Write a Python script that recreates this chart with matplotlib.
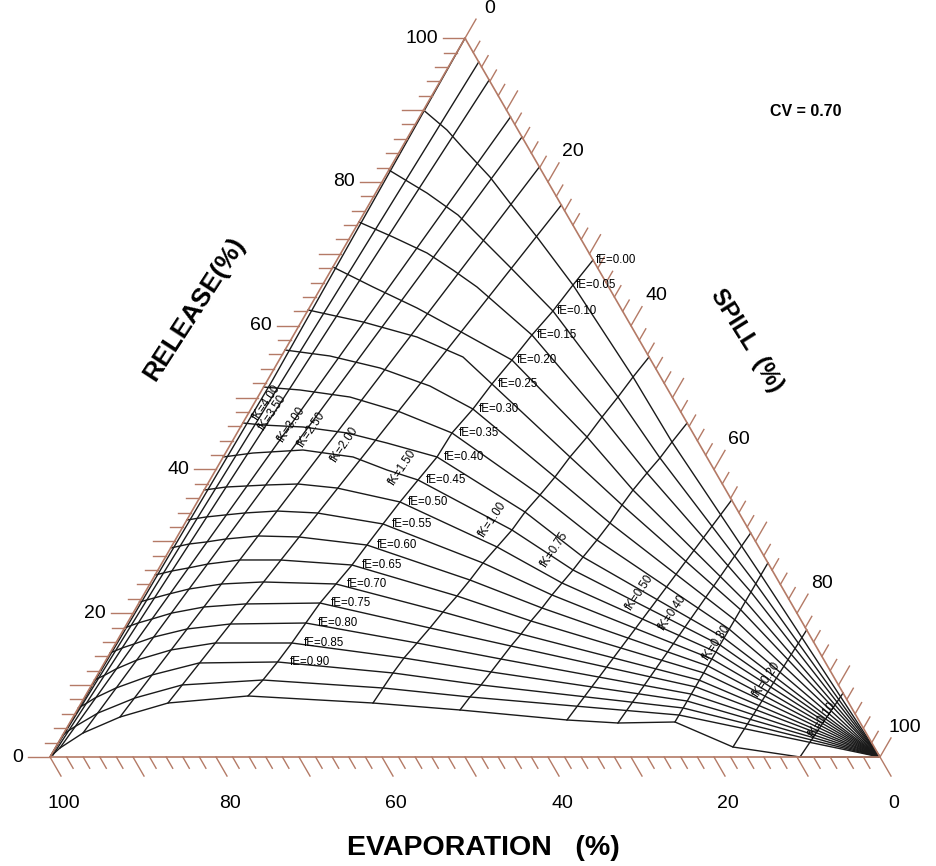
import numpy as np
import matplotlib
matplotlib.use("Agg")
import matplotlib.pyplot as plt

plt.rcParams['font.family'] = ['Liberation Sans', 'DejaVu Sans']

# ---------------- data : nodes given as (Release %, Spill %) ----------------
fe_values = [0.05, 0.10, 0.15, 0.20, 0.25, 0.30, 0.35, 0.40, 0.45, 0.50,
             0.55, 0.60, 0.65, 0.70, 0.75, 0.80, 0.85, 0.90, 0.95, 1.00]

fe_05 = [(90.0, 0.0), (87.23, 4.21), (84.72, 7.40), (80.69, 12.66), (77.07, 16.88), (72.34, 22.50),
         (65.66, 30.18), (52.87, 43.81), (43.82, 53.03), (25.32, 73.00), (0, 100)]
fe_10 = [(81.66, 0.0), (78.46, 6.19), (75.40, 11.46), (72.34, 15.64), (68.17, 21.33), (62.05, 29.57),
         (50.08, 43.39), (41.60, 52.69), (24.07, 73.02), (0, 100)]
fe_15 = [(74.43, 0.0), (72.34, 5.16), (70.12, 10.36), (67.75, 14.67), (65.39, 18.75), (58.71, 28.71),
         (47.30, 42.86), (39.51, 52.17), (22.95, 72.98), (0, 100)]
fe_20 = [(68.17, 0.0), (65.39, 6.22), (62.47, 12.98), (58.99, 20.26), (55.23, 28.04),
         (44.52, 42.44), (37.14, 51.67), (21.56, 73.08), (0, 100)]
fe_25 = [(62.19, 0.0), (60.52, 7.45), (58.43, 15.00), (55.65, 21.93), (51.89, 27.30),
         (41.74, 41.78), (35.06, 51.39), (20.45, 73.02), (0, 100)]
fe_30 = [(56.62, 0.0), (55.79, 5.83), (54.12, 12.70), (51.61, 19.97), (48.41, 26.75),
         (38.95, 41.36), (32.55, 51.19), (19.06, 73.00), (0, 100)]
fe_35 = [(51.47, 0.0), (51.06, 4.59), (50.08, 11.10), (48.00, 18.17), (45.08, 25.89),
         (36.45, 40.81), (30.19, 50.80), (17.81, 72.90), (0, 100)]
fe_40 = [(46.47, 0.0), (46.19, 2.44), (45.91, 7.52), (45.08, 13.24), (43.68, 18.76), (41.74, 25.76),
         (34.08, 40.19), (27.82, 50.31), (16.56, 72.92), (0, 100)]
fe_45 = [(41.74, 0.0), (42.29, 3.31), (42.71, 9.12), (41.74, 15.64), (39.93, 20.63), (38.54, 25.07),
         (31.58, 39.87), (26.02, 50.00), (15.58, 72.93), (0, 100)]
fe_50 = [(37.14, 0.0), (37.56, 2.42), (37.70, 4.76), (37.84, 7.10), (37.98, 10.89), (37.42, 15.87),
         (35.48, 24.43), (29.22, 39.25), (24.21, 49.58), (14.61, 72.93), (0, 100)]
fe_55 = [(32.97, 0.0), (33.39, 2.10), (33.67, 4.24), (33.95, 6.52), (34.22, 10.24), (33.95, 15.20),
         (32.42, 23.91), (26.99, 38.67), (22.54, 49.21), (13.63, 72.94), (0, 100)]
fe_60 = [(29.08, 0.0), (29.63, 1.93), (29.91, 3.84), (30.33, 6.03), (30.75, 9.69), (30.61, 14.69),
         (29.49, 23.44), (24.62, 38.29), (20.73, 48.91), (12.66, 72.95), (0, 100)]
fe_65 = [(25.32, 0.0), (25.88, 1.76), (26.29, 3.48), (26.85, 5.61), (27.41, 9.18), (27.41, 14.00),
         (26.71, 23.03), (22.40, 37.84), (18.92, 48.49), (11.69, 72.95), (0, 100)]
fe_70 = [(21.56, 0.0), (22.12, 1.47), (22.68, 3.00), (23.37, 5.06), (24.07, 8.68), (24.35, 13.48),
         (24.07, 22.42), (20.17, 37.26), (17.11, 48.19), (10.71, 72.83), (0, 100)]
fe_75 = [(17.95, 0.0), (18.64, 1.28), (19.20, 2.69), (20.03, 4.68), (20.87, 8.11), (21.29, 12.84),
         (21.42, 21.82), (17.95, 36.80), (15.44, 47.82), (9.74, 72.96), (0, 100)]
fe_80 = [(14.47, 0.0), (15.16, 1.09), (15.72, 2.26), (16.69, 4.18), (17.81, 7.60), (18.50, 12.44),
         (18.64, 21.50), (15.86, 36.29), (13.63, 47.52), (8.76, 72.85), (0, 100)]
fe_85 = [(10.71, 0.0), (11.41, 0.92), (12.24, 1.83), (13.49, 3.73), (14.89, 7.13), (15.86, 11.95),
         (15.86, 21.20), (13.77, 35.76), (11.83, 47.22), (7.79, 72.85), (0, 100)]
fe_90 = [(6.82, 0.0), (7.51, 0.70), (8.21, 1.31), (9.60, 3.15), (11.41, 6.58), (13.08, 11.41),
         (13.22, 20.80), (11.69, 35.48), (10.02, 46.92), (6.82, 72.86), (0, 100)]
fe_95 = [(3.06, 0.0), (3.62, 0.36), (4.31, 0.97), (6.12, 2.72), (8.21, 6.13), (10.02, 10.89),
         (10.71, 20.30), (9.60, 35.32), (8.35, 46.42), (5.84, 72.86), (0, 100)]
fe_100 = [(0, 0), (1.25, 0.57), (3.34, 2.31), (5.56, 5.65), (7.51, 10.46), (8.49, 19.61),
          (7.51, 35.16), (6.54, 46.13), (5.15, 59.71), (4.73, 66.06), (4.87, 72.86),
          (1.39, 81.59), (0.0, 90.36), (0, 100)]

fe_curves = [fe_05, fe_10, fe_15, fe_20, fe_25, fe_30, fe_35, fe_40, fe_45, fe_50,
             fe_55, fe_60, fe_65, fe_70, fe_75, fe_80, fe_85, fe_90, fe_95, fe_100]

# fK lines (from the Spill axis, fE = 0, down to the fE = 1.00 curve)
fk_150 = [(69.14, 30.86), (65.66, 30.18), (62.05, 29.57), (58.71, 28.71), (55.23, 28.04),
          (51.89, 27.30), (48.41, 26.75), (45.08, 25.89), (41.74, 25.76), (38.54, 25.07),
          (35.48, 24.43), (32.42, 23.91), (29.49, 23.44), (26.71, 23.03), (24.07, 22.42),
          (21.42, 21.82), (18.64, 21.50), (15.86, 21.20), (13.22, 20.80), (10.71, 20.30), (8.49, 19.61)]
fk_100 = [(55.65, 44.35), (52.87, 43.81), (50.08, 43.39), (47.30, 42.86), (44.52, 42.44),
          (41.74, 41.78), (38.95, 41.36), (36.45, 40.81), (34.08, 40.19), (31.58, 39.87),
          (29.22, 39.25), (26.99, 38.67), (24.62, 38.29), (22.40, 37.84), (20.17, 37.26),
          (17.95, 36.80), (15.86, 36.29), (13.77, 35.76), (11.69, 35.48), (9.60, 35.32), (7.51, 35.16)]
fk_075 = [(46.47, 53.53), (43.82, 53.03), (41.60, 52.69), (39.51, 52.17), (37.14, 51.67),
          (35.06, 51.39), (32.55, 51.19), (30.19, 50.80), (27.82, 50.31), (26.02, 50.00),
          (24.21, 49.58), (22.54, 49.21), (20.73, 48.91), (18.92, 48.49), (17.11, 48.19),
          (15.44, 47.82), (13.63, 47.52), (11.83, 47.22), (10.02, 46.92), (8.35, 46.42), (6.54, 46.13)]
fk_050 = [(35.75, 64.25), (5.15, 59.71)]
fk_040 = [(31.16, 68.84), (4.73, 66.06)]
fk_030 = [(27.00, 73.00), (4.87, 72.86)]
fk_020 = [(17.67, 82.33), (1.39, 81.59)]
fk_010 = [(8.90, 91.10), (0.0, 90.36)]
fk_200 = [(76.79, 23.21), (7.51, 10.46)]
fk_250 = [(82.08, 17.92), (5.56, 5.65)]
fk_300 = [(86.26, 13.74), (3.34, 2.31)]
fk_350 = [(89.04, 10.96), (1.25, 0.57)]
fk_400 = [(94.18, 5.82), (0.28, 0.22)]
fk_hi1 = [(96.69, 3.31), (0.0, 0.0)]
fk_hi2 = [(100.0, 0.0), (52.4, 0.6), (0.0, 0.0)]

fk_lines = [fk_hi2, fk_hi1, fk_400, fk_350, fk_300, fk_250, fk_200, fk_150,
            fk_100, fk_075, fk_050, fk_040, fk_030, fk_020, fk_010]

fe_label_text = ["fE=0.00", "fE=0.05", "fE=0.10", "fE=0.15", "fE=0.20", "fE=0.25", "fE=0.30",
                 "fE=0.35", "fE=0.40", "fE=0.45", "fE=0.50", "fE=0.55", "fE=0.60", "fE=0.65",
                 "fE=0.70", "fE=0.75", "fE=0.80", "fE=0.85", "fE=0.90"]
fk_label_text = ["fK=4.00", "fK=3.50", "fK=3.00", "fK=2.50", "fK=2.00", "fK=1.50", "fK=1.00",
                 "fK=0.75", "fK=0.50", "fK=0.40", "fK=0.30", "fK=0.20", "fK=0.10"]
fk_label_pos = [(49.25, 1.52), (47.86, 2.94), (46.19, 6.06), (45.49, 8.82), (43.41, 13.84),
                (40.21, 22.43), (32.97, 36.88), (28.80, 46.44), (22.82, 59.67), (20.03, 65.04),
                (15.86, 72.43), (10.71, 81.03), (5.15, 90.55)]

tick_values = list(range(0, 101, 2))
label_values = [0, 20, 40, 60, 80, 100]
cv_text = "CV = 0.70"

# ---------------- helpers ----------------
H = np.sqrt(3) / 2


def tern(R, S):
    R = np.asarray(R, float)
    S = np.asarray(S, float)
    return S + R / 2.0, R * H


def xy(points):
    arr = np.array(points, float)
    return tern(arr[:, 0], arr[:, 1])


AX = '#b47a66'
GRID = '#1a1a1a'

fig = plt.figure(figsize=(9.36, 8.66), dpi=100)
ax = fig.add_axes([0, 0, 1, 1])
ax.set_xlim(-50 / 8.3, (936 - 50) / 8.3)
ax.set_ylim(757 / 8.3 - 866 / 8.3, 757 / 8.3)
ax.axis('off')

# grid curves
for c in fe_curves:
    X, Y = xy(c)
    ax.plot(X, Y, color=GRID, lw=1.0, solid_joinstyle='miter', zorder=2)
for c in fk_lines:
    X, Y = xy(c)
    ax.plot(X, Y, color=GRID, lw=1.0, zorder=2)

# triangle edges
tri = [(0, 0), (0, 100), (100, 0), (0, 0)]
tx, ty = tern([p[0] for p in tri], [p[1] for p in tri])
ax.plot(tx, ty, color=AX, lw=1.2, zorder=3)

px = 1 / 8.3  # one pixel in data units
for v in tick_values:
    L = (22 if v % 10 == 0 else 13) * px
    # Release (left edge), ticks to the left
    x0, y0 = tern(v, 0)
    ax.plot([x0, x0 - L], [y0, y0], color=AX, lw=1.0, zorder=3)
    # Evaporation (bottom edge), ticks down-right
    x0, y0 = tern(0, 100 - v)
    ax.plot([x0, x0 + 0.5 * L], [y0, y0 - H * L], color=AX, lw=1.0, zorder=3)
    # Spill (right edge), ticks up-right
    x0, y0 = tern(100 - v, v)
    ax.plot([x0, x0 + 0.5 * L], [y0, y0 + H * L], color=AX, lw=1.0, zorder=3)

for v in label_values:
    x0, y0 = tern(v, 0)
    ax.text(x0 - 27 * px, y0, str(v), ha='right', va='center', fontsize=14)
    x0, y0 = tern(0, 100 - v)
    ax.text(x0 + 14 * px, y0 - 46 * px, str(v), ha='center', va='center', fontsize=14)
    x0, y0 = tern(100 - v, v)
    ax.text(x0 + 25 * px, y0 + 30 * px, str(v), ha='center', va='center', fontsize=14)

# fE labels along the fK = 1.50 line
for i, t in enumerate(fe_label_text):
    R, S = fk_150[i]
    x0, y0 = tern(R, S)
    ax.annotate(t, xy=(x0, y0), xytext=(2 + 0.4 * i, 0), textcoords='offset points',
                ha='left', va='center', fontsize=8.3, zorder=4)

# fK labels
for t, (R, S) in zip(fk_label_text, fk_label_pos):
    x0, y0 = tern(R, S)
    ax.text(x0, y0, t, rotation=56, ha='center', va='center', fontsize=8.3,
            rotation_mode='anchor', zorder=4)

# titles
ax.text((194 - 50) * px, (757 - 309) * px, "RELEASE(%)", rotation=57, ha='center', va='center',
        fontsize=19, fontweight='bold', rotation_mode='anchor')
ax.text((747 - 50) * px, (757 - 340) * px, "SPILL  (%)", rotation=-58, ha='center', va='center',
        fontsize=17, fontweight='bold', rotation_mode='anchor')
ax.text((483 - 50) * px, (757 - 848) * px, "EVAPORATION   (%)", ha='center', va='center',
        fontsize=20.5, fontweight='bold')
ax.text((806 - 50) * px, (757 - 111) * px, cv_text, ha='center', va='center',
        fontsize=11.5, fontweight='bold')

fig.savefig("out.png", dpi=100)
